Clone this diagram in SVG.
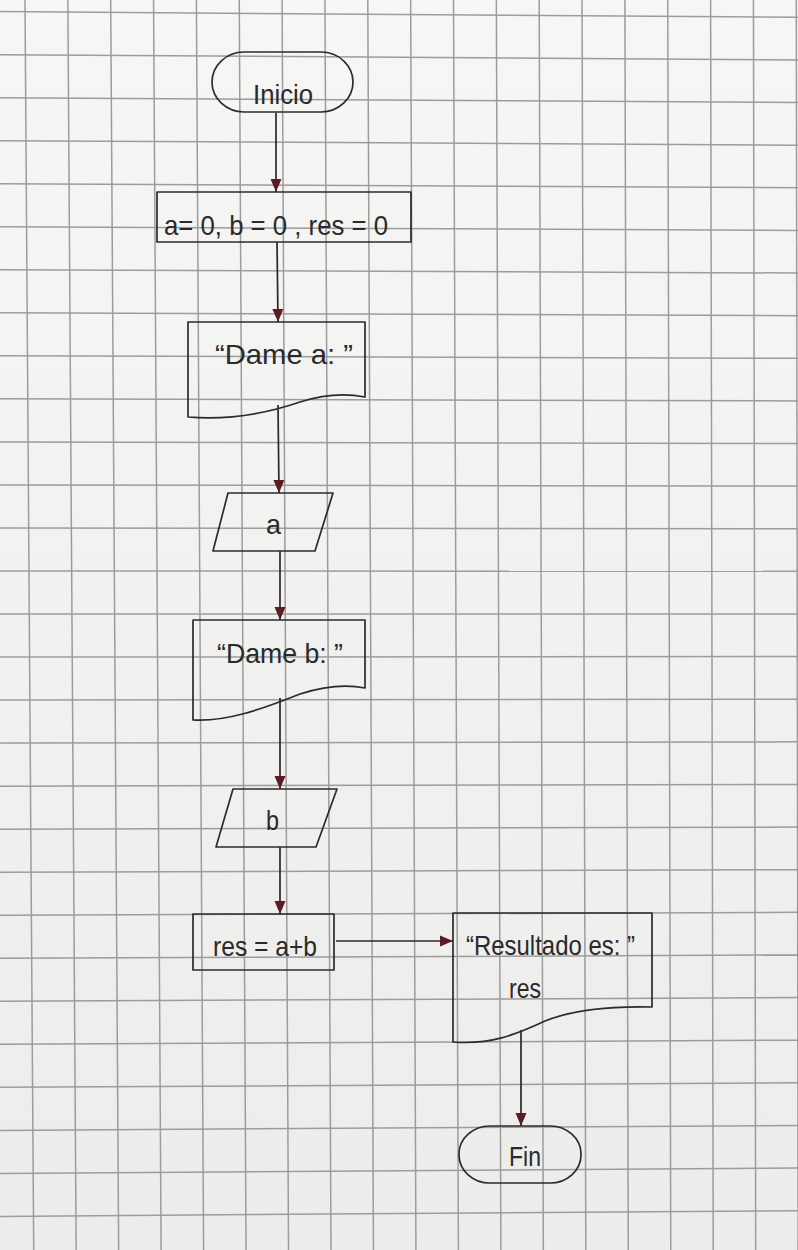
<svg xmlns="http://www.w3.org/2000/svg" width="798" height="1250" viewBox="0 0 798 1250">
<defs>
<style>
.shape{fill:none;stroke:#2b2b2b;stroke-width:1.7;stroke-linejoin:round}
.conn{fill:none;stroke:#2e2626;stroke-width:1.7}
.grid line{stroke:#9c9c9c;stroke-width:1.5}
text{font-family:"Liberation Sans","DejaVu Sans",sans-serif;fill:#2a2a2a;font-size:28px}
</style>
<linearGradient id="paper" x1="0" y1="0" x2="0" y2="1">
<stop offset="0" stop-color="#f6f6f5"/>
<stop offset="1" stop-color="#ececeb"/>
</linearGradient>
<marker id="arr" markerUnits="userSpaceOnUse" markerWidth="14" markerHeight="14" viewBox="0 0 14 14" refX="13" refY="7" orient="auto">
<path d="M0,1.5 L13,7 L0,12.5 Z" fill="#5a1c22"/>
</marker>
</defs>
<rect x="0" y="0" width="798" height="1250" fill="url(#paper)"/>
<g class="grid" id="grid">
<line x1="25" y1="0" x2="33.7" y2="1250"/><line x1="67.85" y1="0" x2="76.17" y2="1250"/><line x1="110.7" y1="0" x2="118.64" y2="1250"/><line x1="153.55" y1="0" x2="161.11" y2="1250"/><line x1="196.4" y1="0" x2="203.58" y2="1250"/><line x1="239.25" y1="0" x2="246.05" y2="1250"/><line x1="282.1" y1="0" x2="288.52" y2="1250"/><line x1="324.95" y1="0" x2="330.99" y2="1250"/><line x1="367.8" y1="0" x2="373.46" y2="1250"/><line x1="410.65" y1="0" x2="415.93" y2="1250"/><line x1="453.5" y1="0" x2="458.4" y2="1250"/><line x1="496.35" y1="0" x2="500.87" y2="1250"/><line x1="539.2" y1="0" x2="543.34" y2="1250"/><line x1="582.05" y1="0" x2="585.81" y2="1250"/><line x1="624.9" y1="0" x2="628.28" y2="1250"/><line x1="667.75" y1="0" x2="670.75" y2="1250"/><line x1="710.6" y1="0" x2="713.22" y2="1250"/><line x1="753.45" y1="0" x2="755.69" y2="1250"/><line x1="796.3" y1="0" x2="798.16" y2="1250"/>
<line x1="0" y1="11.6" x2="798" y2="17.3"/><line x1="0" y1="54.63" x2="798" y2="59.92"/><line x1="0" y1="97.66" x2="798" y2="102.54"/><line x1="0" y1="140.69" x2="798" y2="145.16"/><line x1="0" y1="183.72" x2="798" y2="187.78"/><line x1="0" y1="226.75" x2="798" y2="230.4"/><line x1="0" y1="269.78" x2="798" y2="273.02"/><line x1="0" y1="312.81" x2="798" y2="315.64"/><line x1="0" y1="355.84" x2="798" y2="358.26"/><line x1="0" y1="398.87" x2="798" y2="400.88"/><line x1="0" y1="441.9" x2="798" y2="443.5"/><line x1="0" y1="484.93" x2="798" y2="486.12"/><line x1="0" y1="527.96" x2="798" y2="528.74"/><line x1="0" y1="570.99" x2="798" y2="571.36"/><line x1="0" y1="614.02" x2="798" y2="613.98"/><line x1="0" y1="657.05" x2="798" y2="656.6"/><line x1="0" y1="700.08" x2="798" y2="699.22"/><line x1="0" y1="743.11" x2="798" y2="741.84"/><line x1="0" y1="786.14" x2="798" y2="784.46"/><line x1="0" y1="829.17" x2="798" y2="827.08"/><line x1="0" y1="872.2" x2="798" y2="869.7"/><line x1="0" y1="915.23" x2="798" y2="912.32"/><line x1="0" y1="958.26" x2="798" y2="954.94"/><line x1="0" y1="1001.29" x2="798" y2="997.56"/><line x1="0" y1="1044.32" x2="798" y2="1040.18"/><line x1="0" y1="1087.35" x2="798" y2="1082.8"/><line x1="0" y1="1130.38" x2="798" y2="1125.42"/><line x1="0" y1="1173.41" x2="798" y2="1168.04"/><line x1="0" y1="1216.44" x2="798" y2="1210.66"/>
</g>
<g id="connectors">
<path class="conn" d="M276,113 L276,192" marker-end="url(#arr)"/>
<path class="conn" d="M277,242 L278,322" marker-end="url(#arr)"/>
<path class="conn" d="M278,405 L279,493" marker-end="url(#arr)"/>
<path class="conn" d="M280,551 L280,620" marker-end="url(#arr)"/>
<path class="conn" d="M280,698 L280,789" marker-end="url(#arr)"/>
<path class="conn" d="M280,847 L280,914" marker-end="url(#arr)"/>
<path class="conn" d="M336,941 L453,941" marker-end="url(#arr)"/>
<path class="conn" d="M521,1030 L521,1126" marker-end="url(#arr)"/>
</g>
<g id="inicio">
<rect class="shape" x="212" y="52" width="141" height="60" rx="32" ry="30"/>
<text x="253" y="104" font-size="31" textLength="60" lengthAdjust="spacingAndGlyphs">Inicio</text>
</g>
<g id="init">
<rect class="shape" x="157" y="192" width="254" height="50"/>
<text x="164" y="235" font-size="35" textLength="224" lengthAdjust="spacingAndGlyphs">a= 0, b = 0 , res = 0</text>
</g>
<g id="dame-a">
<path class="shape" d="M188,322 H365 V397 C345,393 325,394 300,402 C265,414 225,420 188,417 Z"/>
<text x="215" y="364" font-size="29" textLength="138" lengthAdjust="spacingAndGlyphs">“Dame a: ”</text>
</g>
<g id="input-a">
<path class="shape" d="M228,493 L333,493 L315,551 L213,551 Z"/>
<text x="266" y="534" font-size="32" textLength="15" lengthAdjust="spacingAndGlyphs">a</text>
</g>
<g id="dame-b">
<path class="shape" d="M193,620 H365 V688 C345,684 325,686 300,694 C260,710 225,722 193,720 Z"/>
<text x="217" y="663" font-size="29" textLength="126" lengthAdjust="spacingAndGlyphs">“Dame b: ”</text>
</g>
<g id="input-b">
<path class="shape" d="M233,789 L337,789 L316,847 L216,847 Z"/>
<text x="266" y="830" font-size="29" textLength="13" lengthAdjust="spacingAndGlyphs">b</text>
</g>
<g id="sum">
<rect class="shape" x="193" y="914" width="141" height="56"/>
<text x="213" y="956" font-size="31" textLength="104" lengthAdjust="spacingAndGlyphs">res = a+b</text>
</g>
<g id="output">
<path class="shape" d="M453,913 H652 V1007 C610,1006 575,1009 545,1021 C515,1035 490,1045 453,1042 Z"/>
<text x="466" y="955" font-size="30" textLength="169" lengthAdjust="spacingAndGlyphs">“Resultado es: ”</text>
<text x="509" y="998" font-size="30" textLength="32" lengthAdjust="spacingAndGlyphs">res</text>
</g>
<g id="fin">
<rect class="shape" x="459" y="1126" width="122" height="57" rx="31" ry="28"/>
<text x="509" y="1166" font-size="30" textLength="32" lengthAdjust="spacingAndGlyphs">Fin</text>
</g>
</svg>
